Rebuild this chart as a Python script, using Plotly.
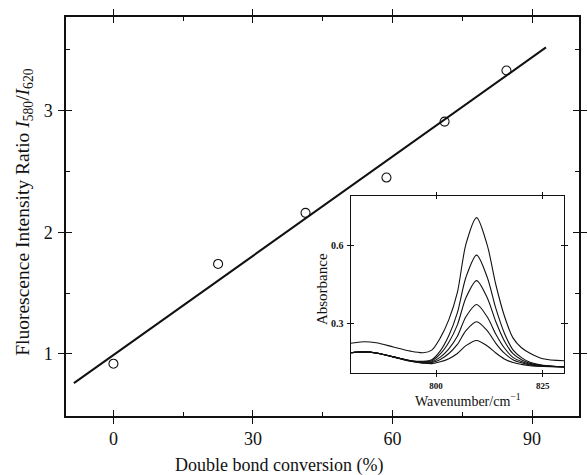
import plotly.graph_objects as go

# Main panel: fluorescence ratio vs double bond conversion
conversion = [0, 22.5, 41.3, 58.7, 71.2, 84.5]
ratio = [0.92, 1.74, 2.16, 2.45, 2.91, 3.33]

# Linear fit drawn between its two end points
fit_x = [-8.5, 93.0]
fit_y = [0.76, 3.52]

# Inset: IR absorbance spectra around the C=C band
wavenumber = [780, 783, 786, 790, 794, 797, 799, 801, 803, 805, 807, 809.5,
              812, 814, 816, 818, 820, 822, 825, 830]
spectra = [
    [0.224, 0.230, 0.226, 0.210, 0.194, 0.188, 0.198, 0.245, 0.315, 0.420, 0.605, 0.707,
     0.600, 0.449, 0.329, 0.245, 0.207, 0.186, 0.165, 0.157],
    [0.188, 0.191, 0.187, 0.172, 0.158, 0.155, 0.161, 0.195, 0.254, 0.342, 0.478, 0.563,
     0.477, 0.358, 0.263, 0.199, 0.169, 0.151, 0.140, 0.134],
    [0.188, 0.191, 0.187, 0.172, 0.157, 0.153, 0.157, 0.183, 0.228, 0.295, 0.399, 0.465,
     0.398, 0.307, 0.233, 0.184, 0.161, 0.147, 0.139, 0.134],
    [0.188, 0.191, 0.187, 0.172, 0.156, 0.151, 0.153, 0.171, 0.203, 0.251, 0.326, 0.373,
     0.325, 0.259, 0.206, 0.170, 0.154, 0.143, 0.138, 0.133],
    [0.188, 0.191, 0.187, 0.172, 0.156, 0.149, 0.150, 0.162, 0.185, 0.220, 0.273, 0.307,
     0.272, 0.224, 0.186, 0.161, 0.149, 0.141, 0.137, 0.133],
    [0.188, 0.191, 0.187, 0.172, 0.155, 0.148, 0.146, 0.153, 0.165, 0.185, 0.215, 0.235,
     0.214, 0.187, 0.164, 0.150, 0.143, 0.138, 0.135, 0.133],
]

main_xticks = [0, 30, 60, 90]
main_yticks = [1, 2, 3]
inset_xticks = [800, 825]
inset_yticks = [0.3, 0.6]

X_RANGE = [-10.2, 100.1]
Y_RANGE = [0.49, 3.77]
IX_RANGE = [780, 830]
IY_RANGE = [0.11, 0.79]

SERIF = "Liberation Serif"
INK = "#111111"

fig = go.Figure()

fig.add_trace(go.Scatter(x=fit_x, y=fit_y, mode="lines",
                         line=dict(color=INK, width=2), xaxis="x", yaxis="y"))
fig.add_trace(go.Scatter(x=conversion, y=ratio, mode="markers",
                         marker=dict(symbol="circle-open", size=9, color=INK,
                                     line=dict(color=INK, width=1.1)),
                         xaxis="x", yaxis="y"))

for s in spectra:
    fig.add_trace(go.Scatter(x=wavenumber, y=s, mode="lines",
                             line=dict(color=INK, width=1.1, shape="spline", smoothing=0.8),
                             xaxis="x2", yaxis="y2"))

# invisible traces to carry the inward-tick overlay axes
fig.add_trace(go.Scatter(x=[None], y=[None], xaxis="x3", yaxis="y3", showlegend=False))
fig.add_trace(go.Scatter(x=[None], y=[None], xaxis="x4", yaxis="y4", showlegend=False))

main_dom_x = [0, 1]
main_dom_y = [0, 1]
inset_dom_x = [0.5547, 0.9712]
inset_dom_y = [0.1078, 0.5514]


def axis_style(width):
    return dict(showgrid=False, zeroline=False, showline=True,
                linecolor=INK, linewidth=width, tickcolor=INK, tickwidth=1.3)


fig.update_layout(
    width=588, height=475,
    margin=dict(l=66, r=1, t=17, b=59),
    paper_bgcolor="white", plot_bgcolor="white",
    showlegend=False,
    font=dict(family=SERIF, color=INK),
    xaxis=dict(**axis_style(1.5), domain=main_dom_x, range=X_RANGE, anchor="y",
               tickvals=main_xticks, ticks="outside", ticklen=6, mirror="ticks",
               tickfont=dict(size=18, family=SERIF), ticklabelstandoff=0),
    yaxis=dict(**axis_style(1.5), domain=main_dom_y, range=Y_RANGE, anchor="x",
               tickvals=main_yticks, ticks="outside", ticklen=6, mirror="ticks",
               tickfont=dict(size=18, family=SERIF), ticklabelstandoff=2),
    xaxis3=dict(**axis_style(1.5), overlaying="x", range=X_RANGE, anchor="y3",
                tickvals=main_xticks, ticks="inside", ticklen=6, mirror="ticks",
                showticklabels=False,
                minor=dict(tickvals=[15, 45, 75], ticks="inside", ticklen=4,
                           tickcolor=INK, tickwidth=1.1)),
    yaxis3=dict(**axis_style(1.5), overlaying="y", range=Y_RANGE, anchor="x3",
                tickvals=main_yticks, ticks="inside", ticklen=6, mirror="ticks",
                showticklabels=False,
                minor=dict(tickvals=[1.5, 2.5, 3.5], ticks="inside", ticklen=4,
                           tickcolor=INK, tickwidth=1.1)),
    xaxis2=dict(**axis_style(1.1), domain=inset_dom_x, range=IX_RANGE, anchor="y2",
                tickvals=inset_xticks, ticktext=["800", "825"], ticks="outside",
                ticklen=3, mirror="ticks",
                tickfont=dict(size=9, family=SERIF, weight="bold"), ticklabelstandoff=1),
    yaxis2=dict(**axis_style(1.1), domain=inset_dom_y, range=IY_RANGE, anchor="x2",
                tickvals=inset_yticks, ticktext=["0.3", "0.6"], ticks="outside",
                ticklen=3, mirror="ticks",
                tickfont=dict(size=10, family=SERIF, weight="bold"), ticklabelstandoff=1),
    xaxis4=dict(**axis_style(1.1), overlaying="x2", range=IX_RANGE, anchor="y4",
                tickvals=inset_xticks, ticks="inside", ticklen=3, mirror="ticks",
                showticklabels=False),
    yaxis4=dict(**axis_style(1.1), overlaying="y2", range=IY_RANGE, anchor="x4",
                tickvals=inset_yticks, ticks="inside", ticklen=3, mirror="ticks",
                showticklabels=False),
)

annotations = [
    dict(text="Double bond conversion (%)", x=0.4146, y=-0.125, xref="paper", yref="paper",
         showarrow=False, xanchor="center", yanchor="middle",
         font=dict(size=18, family=SERIF, color=INK)),
    dict(text="Fluorescence Intensity Ratio <i>I</i><sub>580</sub>/<i>I</i><sub>620</sub>",
         x=-0.0825, y=0.511, xref="paper", yref="paper", textangle=-90,
         showarrow=False, xanchor="center", yanchor="middle",
         font=dict(size=19.5, family=SERIF, color=INK)),
    dict(text="Wavenumber/cm<sup>−1</sup>", x=0.783, y=0.040, xref="paper", yref="paper",
         showarrow=False, xanchor="center", yanchor="middle",
         font=dict(size=14, family=SERIF, color=INK)),
    dict(text="Absorbance", x=0.499, y=0.318, xref="paper", yref="paper", textangle=-90,
         showarrow=False, xanchor="center", yanchor="middle",
         font=dict(size=15, family=SERIF, color=INK)),
]
fig.update_layout(annotations=annotations)

fig.write_html("out.html")
